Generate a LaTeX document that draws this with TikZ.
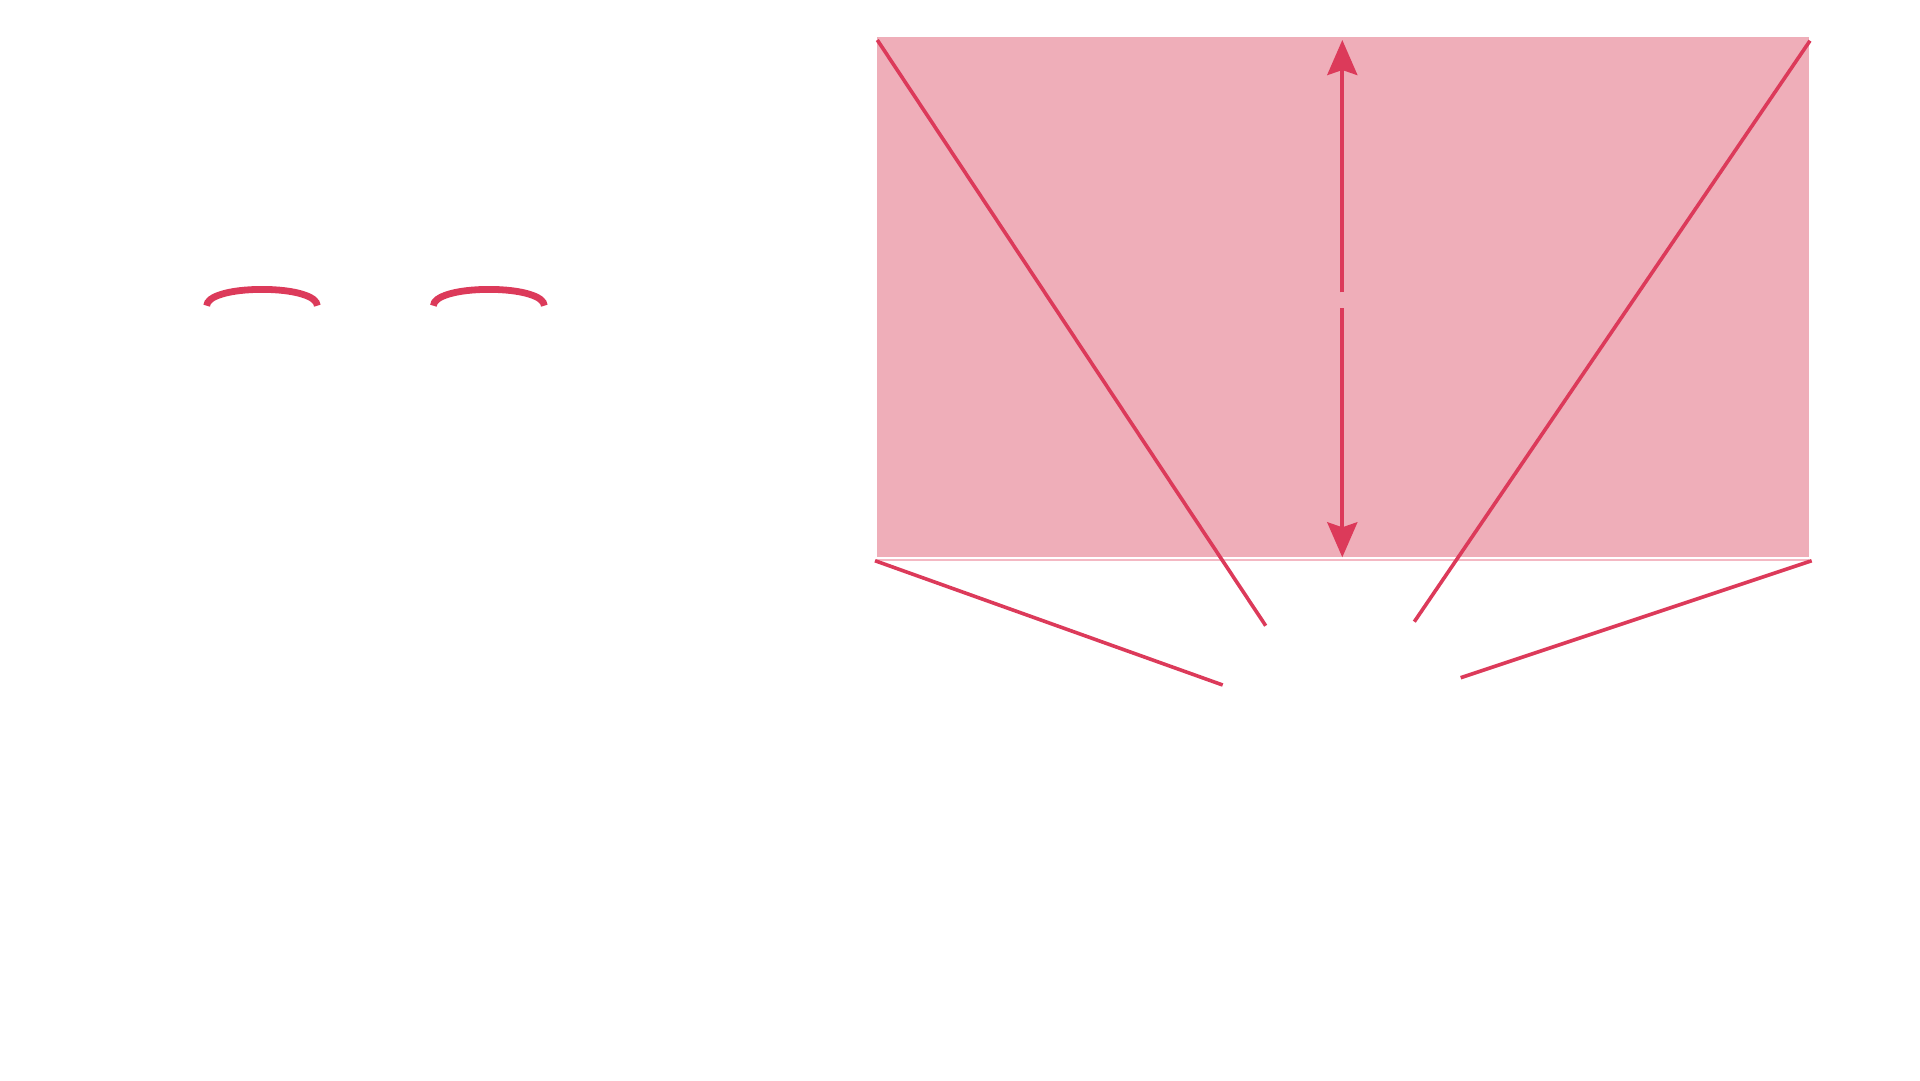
\documentclass[tikz,border=0pt]{standalone}
\usetikzlibrary{arrows.meta}
\definecolor{linered}{HTML}{DC3A5A}
\definecolor{fillpink}{HTML}{EFAEB9}
\definecolor{thinpink}{HTML}{F4B8C3}
\begin{document}
\begin{tikzpicture}[x=1pt,y=-1pt,
  ray/.style={draw=linered,line width=3.6pt},
  brow/.style={draw=linered,line width=6.8pt},
  dimarrow/.style={draw=linered,line width=3.8pt,-{Stealth[length=35pt,width=30pt,inset=5pt]}}]
\useasboundingbox (0,0) rectangle (1920,1080);
% pink panel
\fill[fillpink] (877,37.3) rectangle (1809.3,556.8);
\draw[thinpink,line width=1.6pt] (877,560.2) -- (1809.3,560.2);
% coordinates
\coordinate (tl) at (877.3,40);
\coordinate (tr) at (1810,40.7);
\coordinate (le) at (1265.7,625.7);
\coordinate (re) at (1414.3,621.7);
\coordinate (bl) at (875,560.7);
\coordinate (ble) at (1222.7,685);
\coordinate (br) at (1811.7,560.7);
\coordinate (bre) at (1460.7,677.7);
\coordinate (atop) at (1342.3,40);
\coordinate (amidt) at (1342.3,292.3);
\coordinate (amidb) at (1342.3,308.3);
\coordinate (abot) at (1342.3,557.3);
% rays
\draw[ray] (tl) -- (le);
\draw[ray] (tr) -- (re);
\draw[ray] (bl) -- (ble);
\draw[ray] (br) -- (bre);
% double arrow in two halves
\draw[dimarrow] (amidt) -- (atop);
\draw[dimarrow] (amidb) -- (abot);
% brows
\draw[brow] (206.7,305.7) .. controls (206.7,296.5) and (229,289.4) .. (262,289.4)
   .. controls (295,289.4) and (317.3,296.5) .. (317.3,305.7);
\draw[brow] (433.4,305.7) .. controls (433.4,296.5) and (456,289.4) .. (489,289.4)
   .. controls (522,289.4) and (544.3,296.5) .. (544.3,305.7);
\end{tikzpicture}
\end{document}
